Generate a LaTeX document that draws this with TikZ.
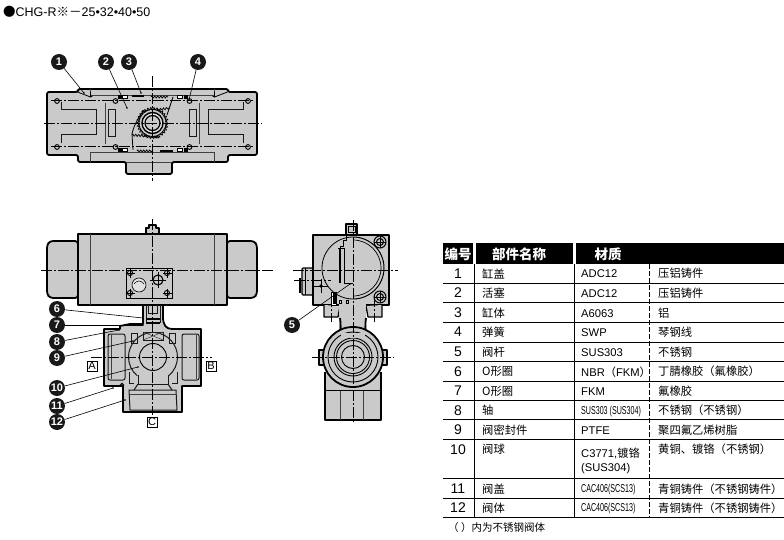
\documentclass[tikz,border=0pt]{standalone}
\usepackage{fontspec}
\setmainfont{Liberation Sans}
\newfontfamily\cjk{Noto Sans CJK SC}
\usetikzlibrary{decorations.pathmorphing}
\definecolor{bodygray}{HTML}{CACACA}
\definecolor{gaugegray}{HTML}{E2E2E2}
\tikzset{
  outline/.style={line width=1.8pt, fill=bodygray, line join=round},
  inner/.style={line width=1pt, black!90},
  thin/.style={line width=.55pt, black!75},
  cline/.style={line width=.7pt, dash pattern=on 11pt off 2pt on 2pt off 2pt},
  teeth/.style={line width=.7pt, decorate, decoration={zigzag,segment length=3pt,amplitude=1.1pt}},
  callout/.style={circle, fill=black!90, text=white, inner sep=0pt, minimum size=16pt, font=\bfseries\fontsize{11}{11}\selectfont},
  leader/.style={line width=.6pt},
  portbox/.style={draw, line width=.6pt, fill=white, inner sep=.8pt, minimum size=10pt, font=\fontsize{11}{11}\selectfont},
  headcell/.style={text=white, font=\cjk\bfseries\fontsize{13.5}{13.5}\selectfont},
  numcell/.style={font=\fontsize{14}{14}\selectfont},
  textcell/.style={anchor=west, font=\cjk\fontsize{11.3}{11.3}\selectfont},
  matcell/.style={anchor=west, font=\fontsize{11.2}{11.2}\selectfont},
  thincell/.style={anchor=west, xscale=.62, font=\fontsize{11.5}{11.5}\selectfont},
}
\newcommand{\screw}[2]{%
  \draw[line width=.9pt] (#1,#2) circle(2.6);
  \draw[line width=.9pt] (#1-4.5,#2) -- (#1+4.5,#2) (#1,#2-4.5) -- (#1,#2+4.5);
}
\begin{document}
\begin{tikzpicture}[x=1pt,y=-1pt]
\useasboundingbox (0,0) rectangle (784,540);
\fill[white] (0,0) rectangle (784,540);

\node[anchor=west, inner sep=0pt, font=\fontsize{12.5}{12.5}\selectfont] (title) at (3,11.5) {{\cjk●}CHG-R{\cjk※－}25•32•40•50};

\draw[outline, rounded corners=2pt] (47,92) -- (78,92) -- (78,89) -- (228,89) -- (228,92) -- (257,92) -- (257,155) -- (228,155) -- (228,162) -- (172,162) -- (172,174) -- (126,174) -- (126,162) -- (78,162) -- (78,155) -- (47,155) -- cycle;
\draw[thin] (90,89) -- (90,95) -- (214,95) -- (214,89);
\draw[thin] (90,162) -- (90,152) -- (214,152) -- (214,162);
\draw[thin] (126,162) -- (172,162);
\foreach \s in {1,-1}
{
  \begin{scope}[shift={(152.5,0)},xscale=\s]
  \draw[inner] (-91,102) -- (-91,110) -- (-56,110) -- (-56,135) -- (-91,135) -- (-91,143);
  \draw[inner] (-44,110) rectangle (-37,137);
  \draw[thin] (-47,103) -- (-47,144);
  \foreach \y in {101,147} \draw[line width=.9pt] (-95.5,\y) circle(2.4) (-37,\y) circle(2.4);
  \foreach \y in {97,150} \fill (-35,\y-1.7) rectangle (-31,\y+1.7);
  \foreach \y in {97,150} \draw[line width=.6pt, fill=white] (-30,\y-1.7) rectangle (-25,\y+1.7);
  \draw[line width=.8pt] (-75,92) -- (-62,97) (-62,92) -- (-62,97) -- (-60,96);
  \end{scope}
}
\draw[line width=1.1pt] (132,96) -- (144,96) (160,151) -- (173,151);
\draw[teeth] (151,97) -- (168,97);
\draw[teeth] (137,151) -- (153,151);
\draw[line width=.8pt] (173,97) -- (167,115) (144,110) .. controls (138,118) and (134,125) .. (132,134) -- (133,150);
\draw[teeth] (142,112) -- (170,108);
\draw[teeth] (132,135) -- (160,137);
\draw[line width=.8pt, fill=bodygray] (152.5,123) circle(13.5);
\draw[line width=1.4pt, fill=gaugegray] (152.5,123) circle(10.5);
\draw[line width=1.2pt, fill=bodygray] (152.5,123) circle(7.5);
\draw[teeth] (152.5,123) circle(14.5);

\draw[cline] (44,123) -- (262,123);
\draw[cline] (152.5,76) -- (152.5,181);
\draw[cline] (51,100) -- (253,100);
\draw[cline] (51,146) -- (253,146);

\draw[outline, line width=1.2pt] (146,234) -- (146,228) -- (149,228) -- (149,225) -- (156,225) -- (156,228) -- (159,228) -- (159,234);
\draw[outline, rounded corners=3pt] (78,241) -- (50,241) -- (47,245) -- (47,294) -- (50,298) -- (78,298) -- cycle;
\draw[outline, rounded corners=3pt] (227,241) -- (254,241) -- (257,245) -- (257,294) -- (254,298) -- (227,298) -- cycle;
\draw[outline] (143,305) -- (143,324) -- (130,324) -- (120,326) -- (120,329) -- (104,329) -- (104,386) -- (123,386) -- (123,412) -- (182,412) -- (182,386) -- (201,386) -- (201,329) -- (172,329) .. controls (166,329) and (163,325) .. (163,317) -- (163,305) -- cycle;
\draw[outline] (78,234) rectangle (227,305);
\draw[thin] (90,234) -- (90,305) (214,234) -- (214,305);
\draw[line width=.8pt] (126,268) rectangle (172,298);
\draw[line width=.6pt, fill=gaugegray] (139,285) circle(7);
\draw[line width=.5pt] (134,284) .. controls (137,280) and (141,280) .. (144,284);
\draw[line width=1.1pt] (158,280) circle(5);
\draw[line width=.8pt] (150,280) -- (166,280) (158,272) -- (158,288);
\foreach \x in {130,167} \foreach \y in {273,293} {\screw{\x}{\y}}

\draw[inner] (146,305) -- (146,323) (160,305) -- (160,323);
\draw[inner] (148,305) -- (148,313) -- (157,313) -- (157,305);
\draw[line width=1.2pt] (146,319) -- (160,319) (146,323) -- (160,323);
\draw[inner, rounded corners=2pt] (108,334) rectangle (125,380);
\draw[inner, rounded corners=2pt] (182,334) rectangle (199,380);
\draw[thin] (111,335) -- (111,379) (196,335) -- (196,379);
\draw[inner] (129,390) -- (176,390) -- (177,410) -- (130,410) -- cycle;
\draw[thin] (129,394) -- (176,394);
\draw[inner] (128.5,357) arc[start angle=180, end angle=265, radius=24.5];
\draw[inner] (177.5,357) arc[start angle=0, end angle=-85, radius=24.5];
\draw[inner] (128.5,357) arc[start angle=180, end angle=130, radius=24.5] (177.5,357) arc[start angle=0, end angle=50, radius=24.5];
\draw[line width=.9pt] (153,357) circle(13.5);
\draw[inner] (131,333) rectangle (137,343) (169,333) rectangle (175,343);
\draw[inner] (143,332) rectangle (163,340);
\draw[thin] (143,332) -- (163,340) (143,340) -- (163,332);
\draw[inner] (138,375) -- (138,384) -- (168,384) -- (168,375);
\draw[inner] (138,384) -- (134,390) (168,384) -- (172,390);
\draw[inner] (129,372) -- (129,383) -- (134,383) (177,372) -- (177,383) -- (172,383);
\draw[line width=1pt] (122,385) circle(1.7);

\draw[cline] (152.5,219) -- (152.5,415);
\draw[cline] (41,270) -- (275,270);
\draw[cline] (91,357) -- (212,357);
\node[portbox] (portA) at (92,366) {A};
\node[portbox] (portB) at (211,366) {B};
\node[portbox] (portC) at (152,422) {C};

\draw[outline, line width=1.2pt] (346,235) -- (346,224) -- (357,224) -- (357,235);
\draw[line width=.6pt] (348,226) rectangle (355,232);
\draw[outline, line width=1.2pt, rounded corners=1pt] (302,268) rectangle (313,295);
\draw[line width=1.6pt] (300,278) -- (300,293);
\draw[line width=.8pt] (305,268) -- (305,295);
\draw[outline] (313,235) rectangle (389,305);
\draw[outline, line width=1.3pt] (324,305) -- (324,317) -- (338,317) -- (340,306) (366,306) -- (368,317) -- (382,317) -- (382,305);
\fill[bodygray] (339,304) rectangle (366,335);
\draw[line width=1.8pt] (340,318) .. controls (341,325) and (341,330) .. (339,335) (366,318) .. controls (365,325) and (365,330) .. (367,335);
\draw[line width=.8pt] (353,237) arc[start angle=-90, end angle=-270, radius=31];
\draw[line width=1pt] (353,237) arc[start angle=-90, end angle=90, radius=31];
\draw[line width=.7pt] (353,240) arc[start angle=-90, end angle=90, radius=28];
\draw[line width=.7pt] (346,235) -- (346,240) -- (343,240) -- (343,246) -- (340,246) -- (340,248) (344,248) -- (344,283) -- (353,283);
\draw[line width=.7pt] (338,248) -- (344,248);
\draw[line width=1.2pt] (340,248) -- (340,283);
\foreach \y in {242,297} \draw[line width=1pt] (380,\y) circle(6) (380,\y) circle(3.5);
\foreach \y in {242,297} \draw[line width=.7pt] (374,\y) -- (386,\y) (380,\y-6) -- (380,\y+6);
\draw[line width=1pt] (321,286) circle(1.2);
\draw[line width=1pt] (314,286) -- (328,286) (321,279) -- (321,293);
\draw[line width=.9pt, fill=white] (331,292) rectangle (336,305);
\fill (333,292) rectangle (336,304);
\draw[line width=.6pt] (339,300) rectangle (341,303) (346,300) rectangle (348,303);

\draw[outline] (325,372) -- (325,420) -- (381,420) -- (381,372);
\draw[thin] (340,390) -- (340,420) (363,390) -- (363,420);
\draw[line width=1pt] (325,390) -- (381,390);
\draw[outline, line width=1.3pt] (319,350) rectangle (325,365) (381,350) rectangle (387,365);
\draw[outline] (353,357) circle(30);
\foreach \r in {25,19,16.5,11.5} \draw[line width=.9pt] (353,357) circle(\r);
\fill[bodygray] (341,333) rectangle (365,338);

\draw[cline] (353,220) -- (353,423);
\draw[cline] (293,270) -- (398,270);
\draw[cline] (294,280) -- (331,280);
\draw[cline] (312,357) -- (394,357);
\draw[cline] (331,296) -- (331,322) (374,296) -- (374,322);

\foreach \n/\cx/\cy/\ex/\ey in {1/59/62/84/93, 2/106/62/127/108, 3/129/62/141/93, 4/198/62/189/100, 5/292/325/350/284, 6/57/309/143/318, 7/57/325/143/325, 8/57/342/119/330, 9/57/358/133/341, 10/57/388/138/367, 11/57/406/113/388, 12/57/422/125/400}
{
  \node[callout] (c\n) at (\cx,\cy) {\n};
  \coordinate (e\n) at (\ex,\ey);
  \draw[leader] (c\n) -- (e\n);
  \fill (e\n) circle(.9);
}

\fill (443,243) rectangle (473,264);
\fill (476,243) rectangle (573,264);
\fill (576,243) rectangle (784,264);
\node[headcell] (hNo) at (458,254) {编号};
\node[headcell] (hName) at (519,254) {部件名称};
\node[headcell] (hMat) at (608,254) {材质};

\foreach \y in {283,302,322,342,361,381,400,419.5,439,478,498,517} \draw[line width=.8pt] (443,\y) -- (784,\y);
\draw[line width=.8pt] (474.5,264) -- (474.5,517) (574,264) -- (574,517);
\draw[line width=.9pt, dash pattern=on 4.5pt off 2.5pt] (649.5,264) -- (649.5,517);

\foreach \i/\y/\name/\cn in {1/273.5/缸盖/压铝铸件, 2/293/活塞/压铝铸件, 3/313/缸体/铝, 4/332/弹簧/琴钢线, 5/352/阀杆/不锈钢, 6/371.5/O形圈/丁腈橡胶（氟橡胶）, 7/391/O形圈/氟橡胶, 8/410.5/轴/不锈钢（不锈钢）, 9/430/阀密封件/聚四氟乙烯树脂, 10/449.5/阀球/黄铜、镀铬（不锈钢）, 11/489/阀盖/青铜铸件（不锈钢铸件）, 12/508/阀体/青铜铸件（不锈钢铸件）}
{
  \node[numcell] (no\i) at (458,\y) {\i};
  \node[textcell, inner sep=0pt] (name\i) at (482,\y) {\name};
  \node[textcell, inner sep=0pt] (cn\i) at (658,\y) {\cn};
}
\foreach \i/\y/\mat in {1/274/ADC12, 2/294/ADC12, 3/314/A6063, 4/333/SWP, 5/353/SUS303, 7/392/FKM, 9/431/PTFE}
  \node[matcell, inner sep=0pt] (mat\i) at (581,\y) {\mat};
\node[matcell, inner sep=0pt] (mat6) at (581,372) {NBR{\cjk（}FKM{\cjk）}};
\node[thincell, inner sep=0pt] (mat8) at (581,411.5) {SUS303 (SUS304)};
\node[matcell, inner sep=0pt] (mat10) at (581,453) {C3771,{\cjk 镀铬}};
\node[matcell, inner sep=0pt] (mat10b) at (581,469) {(SUS304)};
\node[thincell, inner sep=0pt] (mat11) at (581,490) {CAC406(SCS13)};
\node[thincell, inner sep=0pt] (mat12) at (581,509) {CAC406(SCS13)};
\node[anchor=west, inner sep=0pt, font=\cjk\fontsize{10.5}{10.5}\selectfont] (note) at (448,528) {（ ）内为不锈钢阀体};
\end{tikzpicture}
\end{document}
